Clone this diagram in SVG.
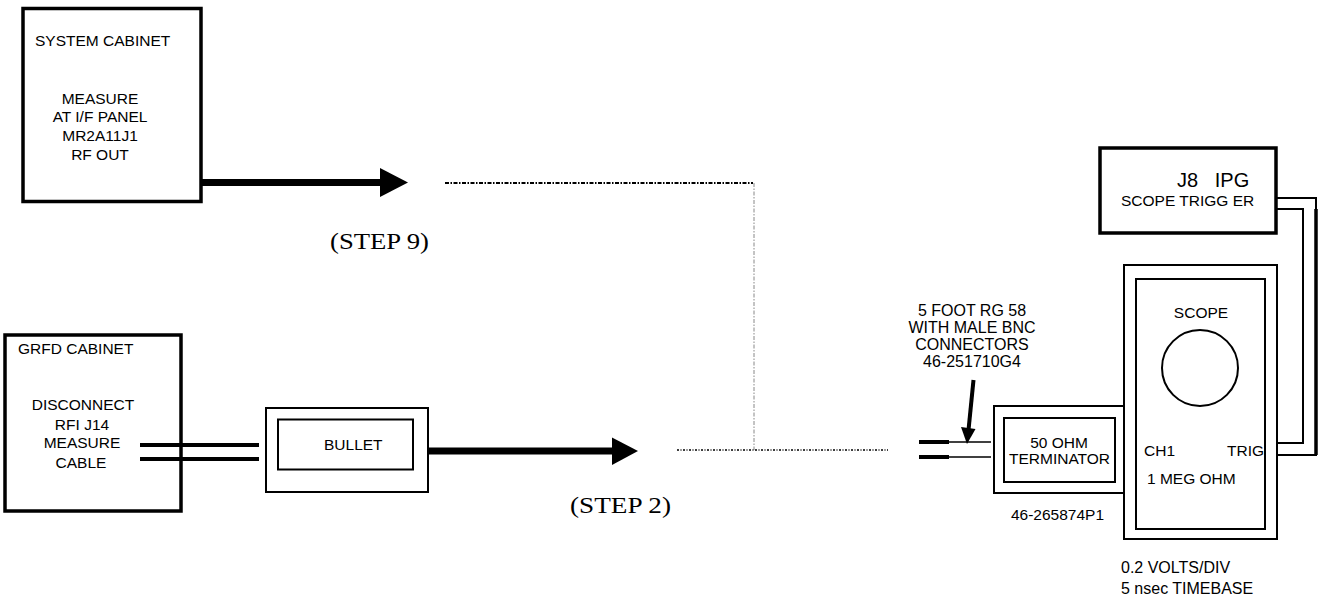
<svg xmlns="http://www.w3.org/2000/svg" width="1319" height="599" viewBox="0 0 1319 599">
<style>
text{font-family:"Liberation Sans",Arial,sans-serif;font-size:15.5px;fill:#000}
.m{text-anchor:middle}
.serif{font-family:"Liberation Serif","Times New Roman",serif;font-size:23px}
.thick{fill:none;stroke:#000;stroke-width:3.5}
.thin{fill:none;stroke:#000;stroke-width:2}
.r16{font-size:16px}
</style>
<rect width="1319" height="599" fill="#fff"/>
<g id="system-cabinet">
<rect x="23" y="8.5" width="178" height="193" class="thick"/>
<text x="35" y="46">SYSTEM CABINET</text>
<text x="100" y="104" class="m">MEASURE</text>
<text x="100" y="122" class="m">AT I/F PANEL</text>
<text x="100" y="141" class="m">MR2A11J1</text>
<text x="100" y="160" class="m">RF OUT</text>
</g>
<g id="grfd-cabinet">
<rect x="5" y="335" width="176" height="176" class="thick"/>
<text x="18" y="354">GRFD CABINET</text>
<text x="83" y="410" class="m">DISCONNECT</text>
<text x="82" y="430" class="m">RFI J14</text>
<text x="82" y="448" class="m">MEASURE</text>
<text x="81" y="468" class="m">CABLE</text>
</g>
<g id="bullet">
<rect x="266" y="408" width="162" height="84" class="thin"/>
<rect x="278" y="419.5" width="135" height="50" class="thin"/>
<text x="324" y="450">BULLET</text>
</g>
<g id="terminator">
<path d="M1124,406 H994 V493 H1124" class="thin"/>
<rect x="1004" y="418" width="111" height="64" class="thin"/>
<text x="1059" y="448" class="m">50 OHM</text>
<text x="1059.5" y="464" class="m">TERMINATOR</text>
<text x="1057.5" y="520" class="m">46-265874P1</text>
</g>
<g id="scope">
<rect x="1124" y="265" width="153" height="274" class="thin"/>
<rect x="1136" y="279" width="129" height="250" class="thin"/>
<text x="1201" y="318" class="m">SCOPE</text>
<circle cx="1200" cy="368" r="38" class="thin"/>
<text x="1144" y="456">CH1</text>
<text x="1227" y="456">TRIG</text>
<text x="1147" y="484">1 MEG OHM</text>
<text x="1121" y="573" class="r16">0.2 VOLTS/DIV</text>
<text x="1121" y="594" class="r16">5 nsec TIMEBASE</text>
</g>
<g id="j8-ipg">
<rect x="1100" y="148" width="176" height="85" class="thick"/>
<text x="1177" y="187" style="font-size:20px;white-space:pre">J8   IPG</text>
<text x="1121" y="206" style="white-space:pre">SCOPE TRIGG ER</text>
</g>
<g id="cable-label">
<text x="972" y="316" class="m r16">5 FOOT RG 58</text>
<text x="972" y="333" class="m r16">WITH MALE BNC</text>
<text x="972" y="350" class="m r16">CONNECTORS</text>
<text x="972" y="367" class="m r16">46-251710G4</text>
</g>
<g id="step-labels">
<text x="330" y="249" class="serif" textLength="99" lengthAdjust="spacingAndGlyphs">(STEP 9)</text>
<text x="570" y="513" class="serif" textLength="101" lengthAdjust="spacingAndGlyphs">(STEP 2)</text>
</g>
<g id="connectors">
<line x1="201" y1="182.5" x2="382" y2="182.5" stroke="#000" stroke-width="7"/>
<polygon points="380,168 408,182.5 380,197" fill="#000"/>
<line x1="428" y1="451" x2="614" y2="451" stroke="#000" stroke-width="7"/>
<polygon points="612,437.5 638,451 612,465" fill="#000"/>
<line x1="140" y1="445" x2="259" y2="445" stroke="#000" stroke-width="4"/>
<line x1="140" y1="459" x2="259" y2="459" stroke="#000" stroke-width="4"/>
<line x1="445" y1="183" x2="753" y2="183" stroke="#000" stroke-width="2" stroke-dasharray="4,1.5,1.5,1.5"/>
<line x1="754" y1="183" x2="754" y2="450" stroke="#888" stroke-width="1" stroke-dasharray="4,1.5,1.5,1.5"/>
<line x1="677" y1="450" x2="888" y2="450" stroke="#000" stroke-width="1.5" stroke-dasharray="2,1.5,1,1.5"/>
<line x1="919" y1="442" x2="949" y2="442" stroke="#000" stroke-width="4"/>
<line x1="919" y1="457" x2="949" y2="457" stroke="#000" stroke-width="4"/>
<line x1="949" y1="442" x2="991" y2="442" stroke="#000" stroke-width="1.5"/>
<line x1="949" y1="457" x2="991" y2="457" stroke="#000" stroke-width="1.5"/>
<line x1="973.5" y1="380" x2="968.5" y2="430" stroke="#000" stroke-width="4"/>
<polygon points="961,427 975.5,429 967,444" fill="#000"/>
<path d="M1276,198 H1316 V455 H1277" fill="none" stroke="#000" stroke-width="2"/>
<line x1="1316" y1="209" x2="1316" y2="455" stroke="#000" stroke-width="3.5"/>
<path d="M1276,209 H1303 V443 H1277" fill="none" stroke="#000" stroke-width="2"/>
</g>
</svg>
